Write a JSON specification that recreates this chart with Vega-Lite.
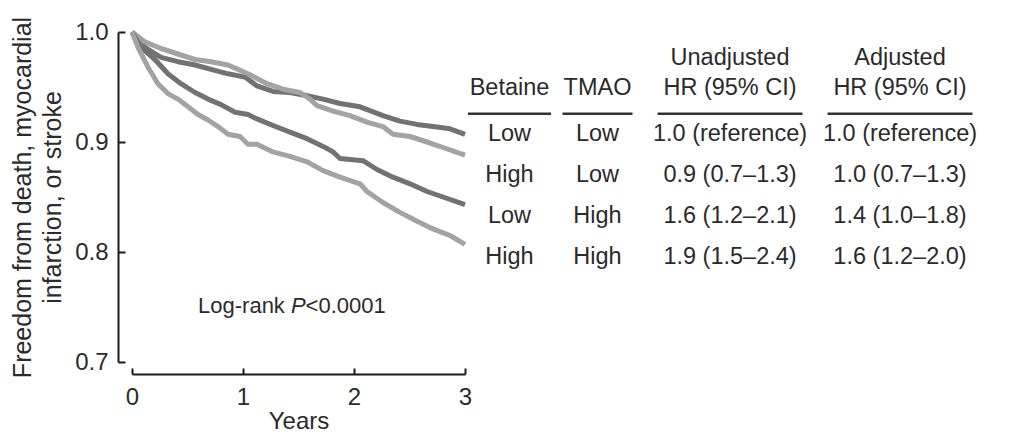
{
  "$schema": "https://vega.github.io/schema/vega-lite/v6.json",
  "autosize": {"type": "pad"},
  "padding": {"left": 10, "top": 16, "right": 0, "bottom": 0},
  "background": "white",
  "bounds": "flush",
  "spacing": 0,
  "config": {
    "font": "Liberation Sans",
    "view": {"stroke": null},
    "text": {"font": "Liberation Sans"}
  },
  "datasets": {
    "km": [
      {"group": "Low betaine, low TMAO", "t": 0, "s": 1.0},
      {"group": "Low betaine, low TMAO", "t": 0.117, "s": 0.986},
      {"group": "Low betaine, low TMAO", "t": 0.261, "s": 0.977},
      {"group": "Low betaine, low TMAO", "t": 0.414, "s": 0.973},
      {"group": "Low betaine, low TMAO", "t": 0.568, "s": 0.970},
      {"group": "Low betaine, low TMAO", "t": 0.712, "s": 0.966},
      {"group": "Low betaine, low TMAO", "t": 0.865, "s": 0.962},
      {"group": "Low betaine, low TMAO", "t": 1.018, "s": 0.959},
      {"group": "Low betaine, low TMAO", "t": 1.126, "s": 0.951},
      {"group": "Low betaine, low TMAO", "t": 1.270, "s": 0.946},
      {"group": "Low betaine, low TMAO", "t": 1.423, "s": 0.945},
      {"group": "Low betaine, low TMAO", "t": 1.577, "s": 0.942},
      {"group": "Low betaine, low TMAO", "t": 1.721, "s": 0.939},
      {"group": "Low betaine, low TMAO", "t": 1.874, "s": 0.935},
      {"group": "Low betaine, low TMAO", "t": 2.054, "s": 0.932},
      {"group": "Low betaine, low TMAO", "t": 2.261, "s": 0.924},
      {"group": "Low betaine, low TMAO", "t": 2.414, "s": 0.919},
      {"group": "Low betaine, low TMAO", "t": 2.568, "s": 0.916},
      {"group": "Low betaine, low TMAO", "t": 2.712, "s": 0.914},
      {"group": "Low betaine, low TMAO", "t": 2.865, "s": 0.912},
      {"group": "Low betaine, low TMAO", "t": 3.0, "s": 0.907},
      {"group": "High betaine, low TMAO", "t": 0, "s": 1.0},
      {"group": "High betaine, low TMAO", "t": 0.117, "s": 0.991},
      {"group": "High betaine, low TMAO", "t": 0.261, "s": 0.985},
      {"group": "High betaine, low TMAO", "t": 0.414, "s": 0.980},
      {"group": "High betaine, low TMAO", "t": 0.568, "s": 0.975},
      {"group": "High betaine, low TMAO", "t": 0.712, "s": 0.973},
      {"group": "High betaine, low TMAO", "t": 0.865, "s": 0.970},
      {"group": "High betaine, low TMAO", "t": 0.955, "s": 0.966},
      {"group": "High betaine, low TMAO", "t": 1.045, "s": 0.962},
      {"group": "High betaine, low TMAO", "t": 1.216, "s": 0.953},
      {"group": "High betaine, low TMAO", "t": 1.360, "s": 0.948},
      {"group": "High betaine, low TMAO", "t": 1.514, "s": 0.945},
      {"group": "High betaine, low TMAO", "t": 1.604, "s": 0.939},
      {"group": "High betaine, low TMAO", "t": 1.667, "s": 0.933},
      {"group": "High betaine, low TMAO", "t": 1.811, "s": 0.928},
      {"group": "High betaine, low TMAO", "t": 1.964, "s": 0.924},
      {"group": "High betaine, low TMAO", "t": 2.117, "s": 0.918},
      {"group": "High betaine, low TMAO", "t": 2.261, "s": 0.914},
      {"group": "High betaine, low TMAO", "t": 2.351, "s": 0.907},
      {"group": "High betaine, low TMAO", "t": 2.505, "s": 0.905},
      {"group": "High betaine, low TMAO", "t": 2.658, "s": 0.900},
      {"group": "High betaine, low TMAO", "t": 2.802, "s": 0.895},
      {"group": "High betaine, low TMAO", "t": 3.0, "s": 0.888},
      {"group": "Low betaine, high TMAO", "t": 0, "s": 1.0},
      {"group": "Low betaine, high TMAO", "t": 0.081, "s": 0.986},
      {"group": "Low betaine, high TMAO", "t": 0.207, "s": 0.975},
      {"group": "Low betaine, high TMAO", "t": 0.324, "s": 0.962},
      {"group": "Low betaine, high TMAO", "t": 0.441, "s": 0.953},
      {"group": "Low betaine, high TMAO", "t": 0.568, "s": 0.945},
      {"group": "Low betaine, high TMAO", "t": 0.685, "s": 0.939},
      {"group": "Low betaine, high TMAO", "t": 0.802, "s": 0.934},
      {"group": "Low betaine, high TMAO", "t": 0.928, "s": 0.927},
      {"group": "Low betaine, high TMAO", "t": 1.045, "s": 0.925},
      {"group": "Low betaine, high TMAO", "t": 1.126, "s": 0.921},
      {"group": "Low betaine, high TMAO", "t": 1.270, "s": 0.915},
      {"group": "Low betaine, high TMAO", "t": 1.423, "s": 0.909},
      {"group": "Low betaine, high TMAO", "t": 1.577, "s": 0.903},
      {"group": "Low betaine, high TMAO", "t": 1.721, "s": 0.896},
      {"group": "Low betaine, high TMAO", "t": 1.811, "s": 0.891},
      {"group": "Low betaine, high TMAO", "t": 1.874, "s": 0.885},
      {"group": "Low betaine, high TMAO", "t": 2.081, "s": 0.883},
      {"group": "Low betaine, high TMAO", "t": 2.207, "s": 0.875},
      {"group": "Low betaine, high TMAO", "t": 2.351, "s": 0.868},
      {"group": "Low betaine, high TMAO", "t": 2.505, "s": 0.862},
      {"group": "Low betaine, high TMAO", "t": 2.658, "s": 0.855},
      {"group": "Low betaine, high TMAO", "t": 2.802, "s": 0.850},
      {"group": "Low betaine, high TMAO", "t": 3.0, "s": 0.843},
      {"group": "High betaine, high TMAO", "t": 0, "s": 1.0},
      {"group": "High betaine, high TMAO", "t": 0.054, "s": 0.986},
      {"group": "High betaine, high TMAO", "t": 0.144, "s": 0.968},
      {"group": "High betaine, high TMAO", "t": 0.234, "s": 0.953},
      {"group": "High betaine, high TMAO", "t": 0.324, "s": 0.944},
      {"group": "High betaine, high TMAO", "t": 0.414, "s": 0.939},
      {"group": "High betaine, high TMAO", "t": 0.505, "s": 0.932},
      {"group": "High betaine, high TMAO", "t": 0.595, "s": 0.925},
      {"group": "High betaine, high TMAO", "t": 0.685, "s": 0.920},
      {"group": "High betaine, high TMAO", "t": 0.775, "s": 0.914},
      {"group": "High betaine, high TMAO", "t": 0.865, "s": 0.907},
      {"group": "High betaine, high TMAO", "t": 0.973, "s": 0.905},
      {"group": "High betaine, high TMAO", "t": 1.045, "s": 0.898},
      {"group": "High betaine, high TMAO", "t": 1.126, "s": 0.898},
      {"group": "High betaine, high TMAO", "t": 1.270, "s": 0.891},
      {"group": "High betaine, high TMAO", "t": 1.423, "s": 0.887},
      {"group": "High betaine, high TMAO", "t": 1.577, "s": 0.882},
      {"group": "High betaine, high TMAO", "t": 1.721, "s": 0.874},
      {"group": "High betaine, high TMAO", "t": 1.874, "s": 0.868},
      {"group": "High betaine, high TMAO", "t": 2.054, "s": 0.862},
      {"group": "High betaine, high TMAO", "t": 2.117, "s": 0.855},
      {"group": "High betaine, high TMAO", "t": 2.261, "s": 0.845},
      {"group": "High betaine, high TMAO", "t": 2.414, "s": 0.836},
      {"group": "High betaine, high TMAO", "t": 2.568, "s": 0.828},
      {"group": "High betaine, high TMAO", "t": 2.712, "s": 0.821},
      {"group": "High betaine, high TMAO", "t": 2.865, "s": 0.815},
      {"group": "High betaine, high TMAO", "t": 3.0, "s": 0.807}
    ],
    "annot": [
      {"t": 0.595, "s": 0.751, "label": "Log-rank", "italic": false},
      {"t": 1.4315, "s": 0.751, "label": "P", "italic": true},
      {"t": 1.564, "s": 0.751, "label": "<0.0001", "italic": false}
    ],
    "table": [
      {"col": "Betaine", "row": "h", "label": "Betaine"},
      {"col": "TMAO", "row": "h", "label": "TMAO"},
      {"col": "Unadjusted", "row": "h", "label": "HR (95% CI)"},
      {"col": "Adjusted", "row": "h", "label": "HR (95% CI)"},
      {"col": "Betaine", "row": "r1", "label": "Low"},
      {"col": "TMAO", "row": "r1", "label": "Low"},
      {"col": "Unadjusted", "row": "r1", "label": "1.0 (reference)"},
      {"col": "Adjusted", "row": "r1", "label": "1.0 (reference)"},
      {"col": "Betaine", "row": "r2", "label": "High"},
      {"col": "TMAO", "row": "r2", "label": "Low"},
      {"col": "Unadjusted", "row": "r2", "label": "0.9 (0.7–1.3)"},
      {"col": "Adjusted", "row": "r2", "label": "1.0 (0.7–1.3)"},
      {"col": "Betaine", "row": "r3", "label": "Low"},
      {"col": "TMAO", "row": "r3", "label": "High"},
      {"col": "Unadjusted", "row": "r3", "label": "1.6 (1.2–2.1)"},
      {"col": "Adjusted", "row": "r3", "label": "1.4 (1.0–1.8)"},
      {"col": "Betaine", "row": "r4", "label": "High"},
      {"col": "TMAO", "row": "r4", "label": "High"},
      {"col": "Unadjusted", "row": "r4", "label": "1.9 (1.5–2.4)"},
      {"col": "Adjusted", "row": "r4", "label": "1.6 (1.2–2.0)"}
    ],
    "header": [
      {"col": "Unadjusted", "row": "h", "label": "Unadjusted"},
      {"col": "Adjusted", "row": "h", "label": "Adjusted"}
    ]
  },
  "hconcat": [
    {
      "width": 333,
      "height": 330,
      "layer": [
        {
          "data": {"name": "km"},
          "mark": {"type": "line", "strokeWidth": 5, "strokeJoin": "round"},
          "encoding": {
            "x": {
              "field": "t", "type": "quantitative",
              "scale": {"domain": [0, 3], "nice": false},
              "axis": {
                "values": [0, 1, 2, 3], "format": "d", "offset": 12, "tickSize": -6, "tickWidth": 2,
                "tickColor": "#1a1a1a", "domainColor": "#1a1a1a", "domainWidth": 2, "grid": false,
                "labelFontSize": 24, "labelColor": "#2b2b2b", "labelPadding": 17, "labelFlush": false,
                "title": "Years", "titleFontSize": 24, "titleFontWeight": "normal", "titleColor": "#2b2b2b", "titlePadding": 0
              }
            },
            "y": {
              "field": "s", "type": "quantitative",
              "scale": {"domain": [0.7, 1.0], "nice": false, "zero": false},
              "axis": {
                "values": [0.7, 0.8, 0.9, 1.0], "format": ".1f", "offset": 14, "tickSize": -7, "tickWidth": 2,
                "tickColor": "#1a1a1a", "domainColor": "#1a1a1a", "domainWidth": 2, "grid": false,
                "labelFontSize": 24, "labelColor": "#2b2b2b", "labelPadding": 17, "labelFlush": false,
                "title": ["Freedom from death, myocardial", "infarction, or stroke"],
                "titleFontSize": 25, "titleFontWeight": "normal", "titleColor": "#2b2b2b",
                "titlePadding": 9, "titleLineHeight": 30
              }
            },
            "color": {
              "field": "group", "type": "nominal",
              "scale": {
                "domain": ["Low betaine, low TMAO", "High betaine, low TMAO", "Low betaine, high TMAO", "High betaine, high TMAO"],
                "range": ["#727272", "#a3a3a3", "#727272", "#a3a3a3"]
              },
              "legend": null
            }
          }
        },
        {
          "data": {"name": "annot"},
          "transform": [{"filter": "!datum.italic"}],
          "mark": {"type": "text", "align": "left", "baseline": "middle", "fontSize": 22, "color": "#2b2b2b"},
          "encoding": {
            "x": {"field": "t", "type": "quantitative"},
            "y": {"field": "s", "type": "quantitative"},
            "text": {"field": "label"}
          }
        },
        {
          "data": {"name": "annot"},
          "transform": [{"filter": "datum.italic"}],
          "mark": {"type": "text", "align": "left", "baseline": "middle", "fontSize": 22, "fontStyle": "italic", "color": "#2b2b2b"},
          "encoding": {
            "x": {"field": "t", "type": "quantitative"},
            "y": {"field": "s", "type": "quantitative"},
            "text": {"field": "label"}
          }
        }
      ]
    },
    {
      "width": 91.5,
      "height": {"step": 39},
      "layer": [
        {
          "data": {"name": "table"},
          "transform": [{"filter": "datum.col === 'Betaine' && datum.row !== 'h'"}],
          "mark": {"type": "text", "fontSize": 23.5, "baseline": "middle", "color": "#2b2b2b"},
          "encoding": {
            "x": {"datum": 0.5, "type": "quantitative", "scale": {"domain": [-0.0361, 1.0663], "nice": false, "zero": false}, "axis": null},
            "y": {"field": "row", "type": "nominal", "scale": {"domain": ["h", "r1", "r2", "r3", "r4"], "paddingInner": 0, "paddingOuter": 1.17}, "axis": null},
            "text": {"field": "label"}
          }
        },
        {
          "data": {"name": "table"},
          "transform": [{"filter": "datum.col === 'Betaine' && datum.row === 'h'"}],
          "mark": {"type": "text", "fontSize": 23.5, "baseline": "middle", "dy": -5, "color": "#2b2b2b"},
          "encoding": {
            "x": {"datum": 0.5, "type": "quantitative"},
            "y": {"field": "row", "type": "nominal"},
            "text": {"field": "label"}
          }
        },
        {
          "data": {"name": "table"},
          "transform": [{"filter": "datum.col === 'Betaine' && datum.row === 'r1'"}],
          "mark": {"type": "rule", "strokeWidth": 2.5, "color": "#333333"},
          "encoding": {
            "x": {"datum": 0, "type": "quantitative"},
            "x2": {"datum": 1},
            "y": {"field": "row", "type": "nominal", "bandPosition": 0}
          }
        }
      ]
    },
    {
      "width": 88,
      "height": {"step": 39},
      "layer": [
        {
          "data": {"name": "table"},
          "transform": [{"filter": "datum.col === 'TMAO' && datum.row !== 'h'"}],
          "mark": {"type": "text", "fontSize": 23.5, "baseline": "middle", "color": "#2b2b2b"},
          "encoding": {
            "x": {"datum": 0.5, "type": "quantitative", "scale": {"domain": [-0.0786, 1.1786], "nice": false, "zero": false}, "axis": null},
            "y": {"field": "row", "type": "nominal", "scale": {"domain": ["h", "r1", "r2", "r3", "r4"], "paddingInner": 0, "paddingOuter": 1.17}, "axis": null},
            "text": {"field": "label"}
          }
        },
        {
          "data": {"name": "table"},
          "transform": [{"filter": "datum.col === 'TMAO' && datum.row === 'h'"}],
          "mark": {"type": "text", "fontSize": 23.5, "baseline": "middle", "dy": -5, "color": "#2b2b2b"},
          "encoding": {
            "x": {"datum": 0.5, "type": "quantitative"},
            "y": {"field": "row", "type": "nominal"},
            "text": {"field": "label"}
          }
        },
        {
          "data": {"name": "table"},
          "transform": [{"filter": "datum.col === 'TMAO' && datum.row === 'r1'"}],
          "mark": {"type": "rule", "strokeWidth": 2.5, "color": "#333333"},
          "encoding": {
            "x": {"datum": 0, "type": "quantitative"},
            "x2": {"datum": 1},
            "y": {"field": "row", "type": "nominal", "bandPosition": 0}
          }
        }
      ]
    },
    {
      "width": 170,
      "height": {"step": 39},
      "layer": [
        {
          "data": {"name": "table"},
          "transform": [{"filter": "datum.col === 'Unadjusted' && datum.row !== 'h'"}],
          "mark": {"type": "text", "fontSize": 23.5, "baseline": "middle", "color": "#2b2b2b"},
          "encoding": {
            "x": {"datum": 0.5, "type": "quantitative", "scale": {"domain": [-0.0862, 1.0862], "nice": false, "zero": false}, "axis": null},
            "y": {"field": "row", "type": "nominal", "scale": {"domain": ["h", "r1", "r2", "r3", "r4"], "paddingInner": 0, "paddingOuter": 1.17}, "axis": null},
            "text": {"field": "label"}
          }
        },
        {
          "data": {"name": "table"},
          "transform": [{"filter": "datum.col === 'Unadjusted' && datum.row === 'h'"}],
          "mark": {"type": "text", "fontSize": 23.5, "baseline": "middle", "dy": -5, "color": "#2b2b2b"},
          "encoding": {
            "x": {"datum": 0.5, "type": "quantitative"},
            "y": {"field": "row", "type": "nominal"},
            "text": {"field": "label"}
          }
        },
        {
          "data": {"name": "header"},
          "transform": [{"filter": "datum.col === 'Unadjusted'"}],
          "mark": {"type": "text", "fontSize": 23.5, "baseline": "middle", "dy": -35, "color": "#2b2b2b"},
          "encoding": {
            "x": {"datum": 0.5, "type": "quantitative"},
            "y": {"field": "row", "type": "nominal"},
            "text": {"field": "label"}
          }
        },
        {
          "data": {"name": "table"},
          "transform": [{"filter": "datum.col === 'Unadjusted' && datum.row === 'r1'"}],
          "mark": {"type": "rule", "strokeWidth": 2.5, "color": "#333333"},
          "encoding": {
            "x": {"datum": 0, "type": "quantitative"},
            "x2": {"datum": 1},
            "y": {"field": "row", "type": "nominal", "bandPosition": 0}
          }
        }
      ]
    },
    {
      "width": 170.5,
      "height": {"step": 39},
      "layer": [
        {
          "data": {"name": "table"},
          "transform": [{"filter": "datum.col === 'Adjusted' && datum.row !== 'h'"}],
          "mark": {"type": "text", "fontSize": 23.5, "baseline": "middle", "color": "#2b2b2b"},
          "encoding": {
            "x": {"datum": 0.5, "type": "quantitative", "scale": {"domain": [-0.0862, 1.0897], "nice": false, "zero": false}, "axis": null},
            "y": {"field": "row", "type": "nominal", "scale": {"domain": ["h", "r1", "r2", "r3", "r4"], "paddingInner": 0, "paddingOuter": 1.17}, "axis": null},
            "text": {"field": "label"}
          }
        },
        {
          "data": {"name": "table"},
          "transform": [{"filter": "datum.col === 'Adjusted' && datum.row === 'h'"}],
          "mark": {"type": "text", "fontSize": 23.5, "baseline": "middle", "dy": -5, "color": "#2b2b2b"},
          "encoding": {
            "x": {"datum": 0.5, "type": "quantitative"},
            "y": {"field": "row", "type": "nominal"},
            "text": {"field": "label"}
          }
        },
        {
          "data": {"name": "header"},
          "transform": [{"filter": "datum.col === 'Adjusted'"}],
          "mark": {"type": "text", "fontSize": 23.5, "baseline": "middle", "dy": -35, "color": "#2b2b2b"},
          "encoding": {
            "x": {"datum": 0.5, "type": "quantitative"},
            "y": {"field": "row", "type": "nominal"},
            "text": {"field": "label"}
          }
        },
        {
          "data": {"name": "table"},
          "transform": [{"filter": "datum.col === 'Adjusted' && datum.row === 'r1'"}],
          "mark": {"type": "rule", "strokeWidth": 2.5, "color": "#333333"},
          "encoding": {
            "x": {"datum": 0, "type": "quantitative"},
            "x2": {"datum": 1},
            "y": {"field": "row", "type": "nominal", "bandPosition": 0}
          }
        }
      ]
    }
  ]
}
